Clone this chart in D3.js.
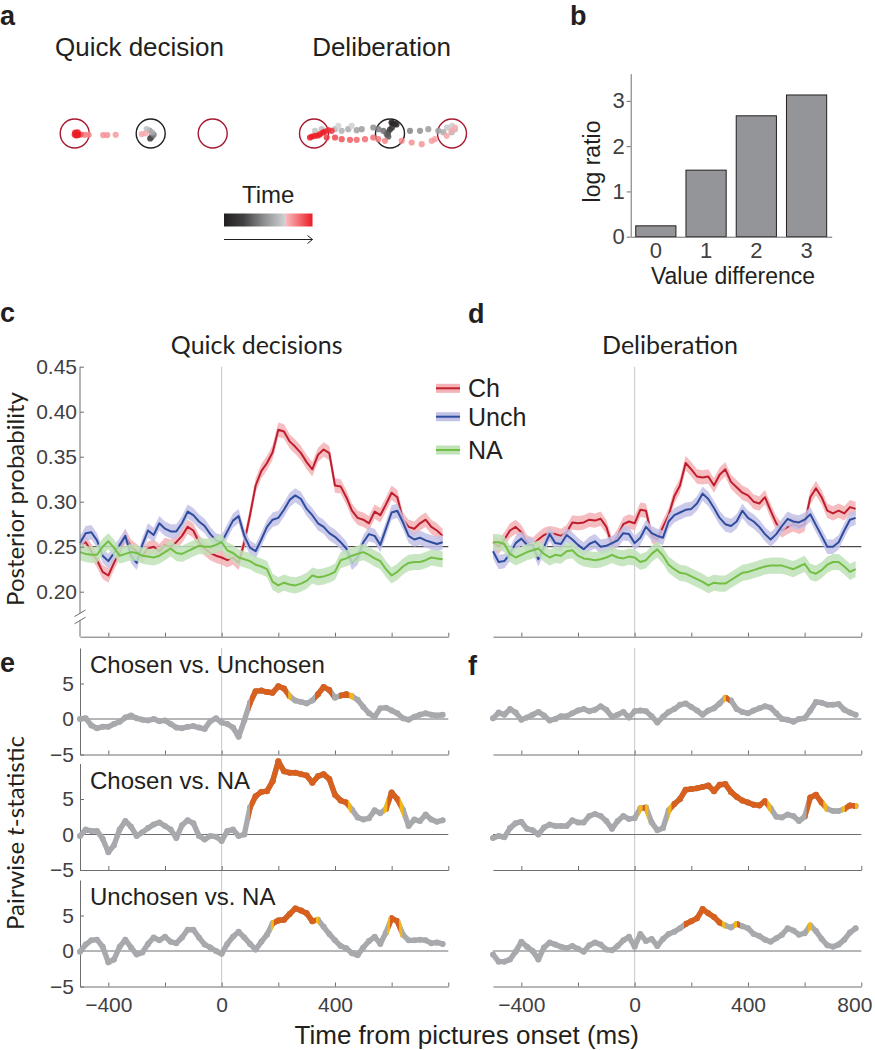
<!DOCTYPE html>
<html>
<head>
<meta charset="utf-8">
<script src="https://cdn.jsdelivr.net/npm/d3@7"></script>
<style>
  body { margin: 0; background: #fff; }
  svg text { font-family: "Liberation Sans", Arial, sans-serif; }
</style>
</head>
<body>
<svg id="fig" width="875" height="1050"></svg>
<script>
// ---------- data ----------
// sample times (ms from pictures onset)
const timeMs = [-500, -480, -460, -440, -420, -400, -380, -360, -340, -320, -300, -280, -260, -240, -220,
  -200, -180, -160, -140, -120, -100, -80, -60, -40, -20, 0, 20, 40, 60, 80, 100, 120, 140, 160, 180,
  200, 220, 240, 260, 280, 300, 320, 340, 360, 380, 400, 420, 440, 460, 480, 500, 520, 540, 560, 580,
  600, 620, 640, 660, 680, 700, 720, 740, 760, 780];

const seriesNames = ["Ch", "Unch", "NA"];
const semHalf = [0.008, 0.008, 0.009];
const chanceLevel = 0.25;
const posteriorTicks = [0.20, 0.25, 0.30, 0.35, 0.40, 0.45];

// panel c: quick decisions, posterior probability
const quickCh = [0.252, 0.255, 0.245, 0.235, 0.222, 0.218, 0.232, 0.245, 0.262, 0.250,
  0.245, 0.240, 0.248, 0.250, 0.245, 0.252, 0.250, 0.255, 0.262, 0.272,
  0.268, 0.255, 0.248, 0.243, 0.240, 0.238, 0.235, 0.238, 0.232, 0.255,
  0.285, 0.318, 0.334, 0.343, 0.355, 0.380, 0.378, 0.367, 0.361, 0.354,
  0.344, 0.336, 0.352, 0.358, 0.354, 0.318, 0.317, 0.305, 0.290, 0.282,
  0.280, 0.276, 0.289, 0.285, 0.297, 0.310, 0.305, 0.280, 0.272, 0.270,
  0.276, 0.280, 0.272, 0.268, 0.262];
const quickUnch = [0.254, 0.265, 0.266, 0.257, 0.240, 0.234, 0.243, 0.252, 0.262, 0.240,
  0.232, 0.252, 0.268, 0.263, 0.276, 0.270, 0.267, 0.267, 0.276, 0.289,
  0.285, 0.278, 0.273, 0.264, 0.257, 0.255, 0.267, 0.279, 0.284, 0.262,
  0.249, 0.245, 0.258, 0.272, 0.280, 0.282, 0.291, 0.302, 0.307, 0.303,
  0.292, 0.285, 0.276, 0.272, 0.265, 0.261, 0.255, 0.248, 0.232, 0.238,
  0.255, 0.264, 0.262, 0.252, 0.270, 0.288, 0.290, 0.277, 0.262, 0.258,
  0.260, 0.257, 0.255, 0.253, 0.255];
const quickNA = [0.244, 0.242, 0.241, 0.241, 0.250, 0.256, 0.249, 0.240, 0.242, 0.244,
  0.243, 0.240, 0.239, 0.238, 0.240, 0.244, 0.248, 0.243, 0.242, 0.245,
  0.248, 0.251, 0.250, 0.250, 0.252, 0.255, 0.246, 0.243, 0.238, 0.236,
  0.234, 0.230, 0.228, 0.225, 0.211, 0.207, 0.210, 0.208, 0.207, 0.209,
  0.212, 0.218, 0.216, 0.217, 0.219, 0.222, 0.235, 0.237, 0.240, 0.242,
  0.244, 0.241, 0.237, 0.234, 0.225, 0.218, 0.222, 0.228, 0.232, 0.233,
  0.233, 0.235, 0.238, 0.237, 0.236];

// panel d: deliberation, posterior probability
const delibCh = [0.255, 0.250, 0.258, 0.268, 0.272, 0.266, 0.255, 0.252, 0.258, 0.263,
  0.265, 0.264, 0.262, 0.266, 0.277, 0.276, 0.277, 0.280, 0.279, 0.281,
  0.272, 0.252, 0.262, 0.275, 0.278, 0.276, 0.291, 0.290, 0.262, 0.258,
  0.272, 0.285, 0.306, 0.318, 0.343, 0.336, 0.328, 0.327, 0.328, 0.318,
  0.330, 0.336, 0.322, 0.316, 0.310, 0.307, 0.300, 0.298, 0.305, 0.290,
  0.276, 0.268, 0.272, 0.275, 0.272, 0.275, 0.305, 0.315, 0.305, 0.290,
  0.287, 0.290, 0.287, 0.294, 0.292];
const delibUnch = [0.245, 0.233, 0.234, 0.242, 0.254, 0.259, 0.252, 0.252, 0.236, 0.250,
  0.264, 0.254, 0.253, 0.263, 0.258, 0.252, 0.247, 0.253, 0.256, 0.250,
  0.251, 0.254, 0.257, 0.265, 0.264, 0.254, 0.260, 0.272, 0.265, 0.262,
  0.260, 0.278, 0.285, 0.288, 0.291, 0.292, 0.298, 0.309, 0.303, 0.293,
  0.282, 0.275, 0.273, 0.278, 0.290, 0.282, 0.278, 0.272, 0.264, 0.258,
  0.264, 0.273, 0.281, 0.278, 0.277, 0.280, 0.286, 0.274, 0.262, 0.250,
  0.250, 0.255, 0.268, 0.280, 0.282];
const delibNA = [0.255, 0.255, 0.253, 0.242, 0.238, 0.241, 0.244, 0.246, 0.248, 0.242,
  0.238, 0.241, 0.240, 0.245, 0.246, 0.240, 0.237, 0.236, 0.235, 0.236,
  0.238, 0.241, 0.238, 0.237, 0.239, 0.238, 0.233, 0.235, 0.242, 0.247,
  0.240, 0.230, 0.225, 0.221, 0.220, 0.217, 0.214, 0.211, 0.207, 0.210,
  0.209, 0.209, 0.213, 0.217, 0.221, 0.222, 0.224, 0.226, 0.228, 0.229,
  0.229, 0.229, 0.227, 0.225, 0.228, 0.231, 0.222, 0.220, 0.224, 0.230,
  0.233, 0.233, 0.228, 0.222, 0.225];

// panels e/f: pairwise t-statistics
const contrastNames = ["Chosen vs. Unchosen", "Chosen vs. NA", "Unchosen vs. NA"];
const tTicks = [-5, 0, 5];
const tQuickChUn = [0.0, 0.1, -0.9, -1.3, -1.1, -1.1, -0.7, -0.4, 0.2, 0.5,
  0.1, -0.1, -0.2, 0.0, -0.3, -0.2, -0.7, -1.2, -1.3, -1.1,
  -1.0, -1.2, -1.4, -0.3, 0.1, -0.5, -0.7, -1.2, -2.5, -0.2,
  2.3, 3.9, 4.0, 3.8, 3.7, 4.6, 4.3, 3.2, 2.6, 2.4,
  2.2, 2.6, 3.5, 4.5, 4.1, 3.0, 3.3, 3.5, 3.2, 2.7,
  1.7, 0.8, 0.3, 1.5, 1.6, 1.2, 0.8, 0.1, -0.1, 0.3,
  0.6, 0.8, 0.6, 0.5, 0.6];
const tQuickChNA = [-0.2, 0.7, 0.5, 0.5, -0.6, -2.5, -1.5, 0.7, 1.9, 1.1,
  -0.2, 0.3, 0.9, 1.4, 1.7, 1.2, 0.7, -0.5, 1.3, 2.0,
  1.6, -0.2, -0.7, -0.2, -0.3, -0.9, 0.5, 0.7, -0.2, 0.0,
  3.8, 5.4, 6.0, 6.1, 7.5, 10.3, 8.9, 8.7, 8.7, 8.5,
  8.3, 7.3, 8.2, 8.5, 7.8, 5.6, 4.8, 4.5, 3.5, 2.4,
  2.1, 2.3, 3.4, 3.0, 3.6, 5.9, 5.0, 3.5, 1.2, 2.1,
  1.9, 2.8, 2.1, 1.8, 2.0];
const tQuickUnNA = [-0.1, 0.9, 1.5, 1.6, 0.6, -1.6, -1.2, 0.6, 1.6, 0.5,
  -0.5, -0.2, 1.0, 1.9, 1.5, 2.0, 1.3, 1.1, 1.9, 3.0,
  3.0, 1.9, 0.9, 0.5, 0.0, -0.4, 1.0, 2.0, 2.7, 1.9,
  1.0, 0.2, 1.3, 2.3, 3.9, 4.3, 4.4, 5.2, 6.0, 5.7,
  5.3, 4.2, 4.4, 3.4, 2.4, 1.5, 0.7, 0.4, -0.3, -0.6,
  0.5, 1.4, 2.0, 1.0, 2.6, 4.6, 4.2, 2.3, 1.5, 1.5,
  1.6, 1.5, 1.1, 1.2, 1.0];
const tDelibChUn = [0.1, 0.9, 0.6, 1.4, 0.9, -0.1, 0.2, 0.6, 1.0, 0.5,
  -0.2, 0.0, 0.4, 0.4, 0.8, 1.2, 1.4, 1.1, 1.3, 1.8,
  1.3, 0.3, 0.6, 1.0, 0.2, 1.1, 1.2, 1.1, 0.4, -0.5,
  0.3, 1.0, 1.4, 2.0, 2.2, 1.7, 1.2, 0.6, 1.2, 1.5,
  2.2, 3.0, 2.6, 1.4, 1.0, 0.8, 1.2, 1.5, 1.8, 1.6,
  0.8, 0.0, -0.1, -0.4, 0.0, 0.1, 1.2, 2.4, 2.3, 2.0,
  2.0, 2.1, 1.3, 0.9, 0.6];
const tDelibChNA = [-0.5, -0.2, -0.4, 0.9, 1.6, 1.8, 0.8, 0.6, 0.0, 1.0,
  1.4, 1.2, 1.2, 1.2, 2.0, 1.7, 1.7, 2.6, 2.9, 2.6,
  1.9, 0.8, 1.9, 2.6, 2.2, 2.3, 3.7, 3.8, 1.7, 0.6,
  0.9, 3.4, 4.3, 5.0, 6.3, 6.4, 6.5, 6.7, 6.9, 6.1,
  7.0, 7.1, 6.0, 5.3, 4.8, 4.5, 4.2, 4.1, 4.7, 3.7,
  2.5, 2.4, 2.8, 2.6, 1.9, 2.5, 5.2, 5.6, 4.5, 3.6,
  3.3, 3.3, 3.6, 4.1, 4.0];
const tDelibUnNA = [-0.5, -1.5, -1.5, -1.2, -0.1, 1.3, 0.6, 0.0, -1.2, 0.5,
  1.2, 0.9, 0.6, 0.4, 0.7, 0.3, -0.1, 0.8, 1.2, 0.9,
  0.2, 0.1, 0.7, 1.5, 2.0, 0.6, 2.4, 1.4, 1.7, 0.7,
  1.7, 2.4, 2.7, 3.2, 3.8, 4.2, 4.6, 5.9, 5.3, 4.8,
  4.0, 3.6, 3.3, 3.8, 3.5, 3.2, 2.4, 2.1, 1.6, 1.3,
  1.8, 2.3, 3.2, 2.9, 2.3, 2.5, 3.6, 2.8, 1.7, 0.8,
  0.6, 0.9, 1.6, 2.6, 3.2];

// significant stretches [from, to] in ms
const sigOrangeQuick = [[[100, 235], [330, 390], [415, 450]], [[100, 445], [585, 628]], [[184, 332], [594, 626]]];
const sigYellowQuick = [[[236, 246], [452, 466]], [[446, 458], [572, 584], [629, 641]], [[174, 183], [333, 343], [585, 593], [627, 637]]];
const sigOrangeDelib = [[[322, 334]], [[28, 36], [130, 468], [607, 666], [742, 778]], [[175, 308], [362, 372]]];
const sigYellowDelib = [[[313, 321]], [[14, 27], [37, 48], [119, 129], [469, 481], [667, 679], [731, 741], [779, 790]], [[309, 319], [351, 361], [612, 626]]];

// panel b
const valueDiff = ["0", "1", "2", "3"];
const logRatio = [0.24, 1.47, 2.67, 3.13];
const logRatioTicks = [0, 1, 2, 3];

// panel a: example trajectories, offsets from the start picture (px) and normalised time
const targetX = [-76, 0, 62];
const targetRole = ["option", "start", "option"];
const quickDx = [-0.5, 1, 3, 1.5, -1, -4, -5, -9, -35, -43.5, -47.5, -62, -66, -70, -73, -76, -74.5, -72.5, -75.5, -74];
const quickDy = [5, 3.3, 1.3, -1, -3, -4.4, -0.2, 0.6, 1.3, 1.6, 1.6, 1.3, 1.3, 1, -1.2, 1, 2, 1.5, -1, 0.5];
const quickT = [0.15, 0.25, 0.4, 0.55, 0.5, 0.62, 0.73, 0.74, 0.76, 0.78, 0.78, 0.8, 0.82, 0.9, 1, 1, 1, 1, 1, 1];
const delibDx = [1.5, 3, 5, 6.5, 2, 0, -2, -1.7, -3.3, -6.7, -11.7, 20, -16.7, 30, 38.3, -28.3, 48.3, -33.3,
  53.3, -41.7, 61.7, -48.3, 65, -55, -68.3, -75, 57, 62, -38.3, -51.7, 65, 61.7, 56.7, 45, 41.7, 31.7,
  21.7, 11.7, -5, -11.7, -16.7, -25, -33.3, -40, -48.3, -55, -63.3, -58.3, -61.7, -65, -70, -75, -80, -78, -72, -67];
const delibDy = [-11, -10, -9.5, -9, -6, -4, -1, 3, 0.7, -2.7, -4.3, -2.7, -6, -2.7, -4.3, -4.3, -2.7, -3.3,
  -1.3, -4.3, -1.3, -2.7, -4.3, -4.3, -4.3, -2.7, -6, -7.7, -7.7, -7.7, -6, -2.7, 2.3, 5.7, 7.3, 10.7,
  9, 7.3, 7.3, 5.7, 4, 5.7, 6.3, 6.3, 5.7, 4, 4, -2.7, -3.3, -2, 0.7, 2.3, 4, 3, 2, -1];
const delibT = [0, 0.03, 0.06, 0.08, 0.12, 0.18, 0.22, 0.28, 0.3, 0.35, 0.4, 0.42, 0.45, 0.46, 0.5, 0.5, 0.52, 0.52,
  0.55, 0.55, 0.58, 0.58, 0.6, 0.6, 0.63, 0.65, 0.66, 0.68, 0.69, 0.7, 0.72, 0.73, 0.74, 0.75, 0.76, 0.77,
  0.78, 0.79, 0.8, 0.82, 0.84, 0.85, 0.86, 0.88, 0.9, 0.92, 0.94, 0.95, 0.96, 0.97, 0.98, 0.99, 1, 1, 1, 1];

// ---------- drawing ----------
const svg = d3.select("#fig");
const humanist = 'Lato, "Open Sans", sans-serif';
const ink = "#231f20";
const tickInk = "#414042";
const axisInk = "#6d6e71";
const lineColors = ["#be1e2d", "#2e4d9f", "#72bf44"];
const bandColors = ["#f4b2b6", "#c2c1e6", "#bfe2b8"];
const traceGray = "#a7a9ac", traceOrange = "#d7601f", traceYellow = "#f2b81b";
const xTicks = [-400, -200, 0, 200, 400, 600, 800];
let clipCount = 0;

function styleAxis(g, size) {
    g.attr("font-size", null).attr("font-family", null);
    g.selectAll("path, line").attr("stroke", axisInk);
    g.selectAll("text").attr("font-size", size).attr("fill", tickInk);
}

function drawLetters() {
    const letters = [["a", 0, 25], ["b", 570, 25], ["c", 0, 322], ["d", 468, 323], ["e", 0, 672], ["f", 468, 675]];
    svg.selectAll("text.letter").data(letters).enter().append("text")
        .attr("class", "letter")
        .attr("x", d => d[1]).attr("y", d => d[2])
        .attr("font-size", 27).attr("font-weight", "bold").attr("fill", ink)
        .text(d => d[0]);
}

function drawTrajectories() {
    const colorT = d3.scaleLinear()
        .domain([0, 0.22, 0.45, 0.7, 0.701, 1])
        .range(["#231f20", "#404042", "#8d8e90", "#d1d3d4", "#f8babd", "#ec1c24"]);
    const cy = 133.5;
    const panels = [
        { title: "Quick decision", titleX: 139.5, cx: 150.7, dx: quickDx, dy: quickDy, t: quickT },
        { title: "Deliberation", titleX: 381.5, cx: 390, dx: delibDx, dy: delibDy, t: delibT }
    ];
    panels.forEach(p => {
        const xs = d3.scaleLinear().domain([-100, 100]).range([p.cx - 100, p.cx + 100]);
        const ys = d3.scaleLinear().domain([-20, 20]).range([cy - 20, cy + 20]);
        svg.append("text").attr("x", p.titleX).attr("y", 56)
            .attr("text-anchor", "middle").attr("font-size", 26).attr("fill", ink).text(p.title);
        svg.append("g").selectAll("circle").data(targetX).enter().append("circle")
            .attr("cx", d => xs(d)).attr("cy", ys(0)).attr("r", 14.5)
            .attr("fill", "none").attr("stroke-width", 1.4)
            .attr("stroke", (d, i) => targetRole[i] === "start" ? ink : "#a6192e");
        const pts = p.dx.map((d, i) => ({ x: d, y: p.dy[i], t: p.t[i] }))
            .sort((a, b) => a.t - b.t);
        svg.append("g").selectAll("circle").data(pts).enter().append("circle")
            .attr("cx", d => xs(d.x)).attr("cy", d => ys(d.y)).attr("r", 3.1)
            .attr("fill", d => colorT(d.t)).attr("fill-opacity", 0.85);
    });

    // time colour bar
    const grad = svg.append("defs").append("linearGradient").attr("id", "timeGrad");
    grad.selectAll("stop").data(colorT.domain()).enter().append("stop")
        .attr("offset", d => d).attr("stop-color", d => colorT(d));
    const bx = d3.scaleLinear().domain([0, 1]).range([224, 312.5]);
    svg.append("text").attr("x", (bx(0) + bx(1)) / 2).attr("y", 203)
        .attr("text-anchor", "middle").attr("font-size", 24).attr("fill", ink).text("Time");
    svg.append("rect").attr("x", bx(0)).attr("y", 213.5).attr("width", bx(1) - bx(0)).attr("height", 13)
        .attr("fill", "url(#timeGrad)");
    const arrow = svg.append("g").attr("stroke", ink).attr("stroke-width", 1).attr("fill", "none");
    arrow.append("line").attr("x1", bx(0)).attr("x2", bx(1)).attr("y1", 239.5).attr("y2", 239.5);
    arrow.append("path").attr("d", `M${bx(1) - 5},235.5 L${bx(1)},239.5 L${bx(1) - 5},243.5`);
}

function drawBars() {
    const x = d3.scaleBand().domain(valueDiff).range([630.7, 831.7]).paddingInner(0.2).paddingOuter(0.1);
    const y = d3.scaleLinear().domain([0, 3.6]).range([236.7, 73.7]);
    svg.append("g").selectAll("rect").data(logRatio).enter().append("rect")
        .attr("x", (d, i) => x(valueDiff[i])).attr("width", x.bandwidth())
        .attr("y", d => y(d)).attr("height", d => y(0) - y(d))
        .attr("fill", "#939598").attr("stroke", ink).attr("stroke-width", 1);
    const ya = svg.append("g").attr("transform", `translate(630.7,0)`)
        .call(d3.axisLeft(y).tickValues(logRatioTicks).tickFormat(d3.format("d"))
            .tickSizeInner(4).tickSizeOuter(0).tickPadding(2));
    styleAxis(ya, 22);
    const xa = svg.append("g").attr("transform", `translate(0,236.7)`)
        .call(d3.axisBottom(x).tickSize(0).tickPadding(6));
    styleAxis(xa, 22);
    svg.append("text").attr("x", 733).attr("y", 284).attr("text-anchor", "middle")
        .attr("font-size", 23).attr("fill", ink).text("Value difference");
    svg.append("text").attr("transform", "translate(600,161.5) rotate(-90)").attr("text-anchor", "middle")
        .attr("font-size", 23).attr("fill", ink).text("log ratio");
}

function drawPosterior(p) {
    const x = d3.scaleLinear().domain([-500, 800]).range([p.x0, p.x1]);
    const y = d3.scaleLinear().domain([0.15, 0.45]).range([636.7, 366.7]);
    const g = svg.append("g");

    g.append("line").attr("x1", x(0)).attr("x2", x(0)).attr("y1", y(0.45)).attr("y2", y(0.15))
        .attr("stroke", "#c7c8ca").attr("stroke-width", 1);
    g.append("line").attr("x1", x(-500)).attr("x2", x(800)).attr("y1", y(chanceLevel)).attr("y2", y(chanceLevel))
        .attr("stroke", ink).attr("stroke-width", 1);

    const band = (vals, k) => d3.area()
        .x((d, i) => x(timeMs[i]))
        .y0(d => y(d - semHalf[k]))
        .y1(d => y(d + semHalf[k]))(vals);
    const line = d3.line().x((d, i) => x(timeMs[i])).y(d => y(d));

    // each condition: shaded error band, then its mean line
    p.series.forEach((vals, k) => {
        g.append("path").attr("d", band(vals, k)).attr("fill", bandColors[k]).attr("fill-opacity", 0.85);
        g.append("path").attr("d", line(vals)).attr("fill", "none")
            .attr("stroke", lineColors[k]).attr("stroke-width", 2).attr("stroke-linejoin", "round");
    });

    const xa = g.append("g").attr("transform", `translate(0,${y(0.15)})`)
        .call(d3.axisBottom(x).tickValues(xTicks).tickSizeInner(-4).tickSizeOuter(0).tickFormat(""));
    styleAxis(xa, 21);

    svg.append("text").attr("x", p.titleX).attr("y", 354).attr("text-anchor", "middle")
        .style("font-family", humanist).attr("font-size", 25).attr("fill", ink).text(p.title);

    if (p.yAxis) {
        const ya = g.append("g").attr("transform", `translate(${p.x0},0)`)
            .call(d3.axisLeft(y).tickValues(posteriorTicks).tickFormat(d3.format(".2f"))
                .tickSizeInner(-4).tickSizeOuter(0).tickPadding(3));
        ya.select(".domain").remove();
        styleAxis(ya, 21);
        // broken y axis
        const brk = [0.176, 0.168];
        const ax = g.append("g").attr("stroke", axisInk).attr("stroke-width", 1);
        ax.append("line").attr("x1", p.x0).attr("x2", p.x0).attr("y1", y(0.45)).attr("y2", y(brk[0]));
        ax.append("line").attr("x1", p.x0).attr("x2", p.x0).attr("y1", y(brk[1])).attr("y2", y(0.15));
        brk.forEach(b => {
            ax.append("line").attr("x1", p.x0 - 5.5).attr("x2", p.x0 + 5.5)
                .attr("y1", y(b) + 3.3).attr("y2", y(b) - 3.3);
        });
        svg.append("text").attr("transform", `translate(24,499) rotate(-90)`).attr("text-anchor", "middle")
            .style("font-family", humanist).attr("font-size", 24).attr("fill", ink).text("Posterior probability");
    }

    if (p.legend) {
        const lg = svg.append("g");
        const yl = [388.3, 416.7, 450];
        seriesNames.forEach((name, k) => {
            lg.append("rect").attr("x", 436).attr("y", yl[k] - 4.5).attr("width", 24).attr("height", 9)
                .attr("fill", bandColors[k]);
            lg.append("line").attr("x1", 436).attr("x2", 460).attr("y1", yl[k]).attr("y2", yl[k])
                .attr("stroke", lineColors[k]).attr("stroke-width", 2);
            lg.append("text").attr("x", 468).attr("y", yl[k] + 9).attr("font-size", 25).attr("fill", ink).text(name);
        });
    }
}

function drawTrace(parent, x, y, vals, color, clip) {
    const g = parent.append("g");
    if (clip) g.attr("clip-path", `url(#${clip})`);
    const line = d3.line().x((d, i) => x(timeMs[i])).y(d => y(d));
    g.append("path").attr("d", line(vals)).attr("fill", "none").attr("stroke", color)
        .attr("stroke-width", 5.4).attr("stroke-linejoin", "round").attr("stroke-linecap", "round");
    g.selectAll("circle").data(vals).enter().append("circle")
        .attr("cx", (d, i) => x(timeMs[i])).attr("cy", d => y(d)).attr("r", 3).attr("fill", color);
}

function drawTstats(p) {
    const x = d3.scaleLinear().domain([-500, 800]).range([p.x0, p.x1]);
    const tops = [648, 763.5, 880];
    const h = 106.5;
    const defs = svg.append("defs");
    svg.append("line").attr("x1", x(0)).attr("x2", x(0)).attr("y1", tops[0]).attr("y2", tops[2] + h)
        .attr("stroke", "#c7c8ca").attr("stroke-width", 1);

    p.series.forEach((vals, k) => {
        const y = d3.scaleLinear().domain([-5, 10]).range([tops[k] + h, tops[k]]);
        const g = svg.append("g");
        g.append("line").attr("x1", x(-500)).attr("x2", x(800)).attr("y1", y(0)).attr("y2", y(0))
            .attr("stroke", axisInk).attr("stroke-width", 1);

        const last = k === p.series.length - 1;
        const xa = g.append("g").attr("transform", `translate(0,${y(-5)})`)
            .call(d3.axisBottom(x).tickValues(xTicks).tickSizeInner(-4).tickSizeOuter(0).tickPadding(11)
                .tickFormat(d => last && p.xLabels.includes(d) ? d3.format("")(d) : ""));
        styleAxis(xa, 21);
        // keep the rightmost label inside the page
        xa.selectAll(".tick text").filter(d => x(d) > 855).attr("dx", -7);

        if (p.yAxis) {
            const ya = g.append("g").attr("transform", `translate(${p.x0},0)`)
                .call(d3.axisLeft(y).tickValues(tTicks).tickSizeInner(-4).tickSizeOuter(0).tickPadding(6));
            styleAxis(ya, 21);
            g.append("text").attr("x", 90).attr("y", tops[k] + 25).attr("font-size", 24).attr("fill", ink)
                .text(contrastNames[k]);
        }

        drawTrace(g, x, y, vals, traceGray, null);
        [[p.orange[k], traceOrange], [p.yellow[k], traceYellow]].forEach(([ranges, color]) => {
            ranges.forEach(([a, b]) => {
                const id = "sig" + (clipCount++);
                defs.append("clipPath").attr("id", id).append("rect")
                    .attr("x", x(a)).attr("width", x(b) - x(a))
                    .attr("y", tops[k] - 20).attr("height", h + 40);
                drawTrace(g, x, y, vals, color, id);
            });
        });
    });
}

drawLetters();
drawTrajectories();
drawBars();
drawPosterior({ x0: 80, x1: 448.3, series: [quickCh, quickUnch, quickNA], title: "Quick decisions", titleX: 256.7, yAxis: true, legend: true });
drawPosterior({ x0: 493, x1: 861.3, series: [delibCh, delibUnch, delibNA], title: "Deliberation", titleX: 670, yAxis: false, legend: false });
drawTstats({ x0: 80, x1: 448.3, series: [tQuickChUn, tQuickChNA, tQuickUnNA], orange: sigOrangeQuick, yellow: sigYellowQuick, yAxis: true, xLabels: [-400, 0, 400] });
drawTstats({ x0: 493, x1: 861.3, series: [tDelibChUn, tDelibChNA, tDelibUnNA], orange: sigOrangeDelib, yellow: sigYellowDelib, yAxis: false, xLabels: [-400, 0, 400, 800] });

svg.append("text").attr("transform", "translate(24,833) rotate(-90)").attr("text-anchor", "middle")
    .style("font-family", humanist).attr("font-size", 24).attr("fill", ink)
    .call(t => {
        t.append("tspan").text("Pairwise ");
        t.append("tspan").attr("font-style", "italic").text("t");
        t.append("tspan").text("-statistic");
    });
svg.append("text").attr("x", 466.7).attr("y", 1044).attr("text-anchor", "middle")
    .attr("font-size", 26).attr("fill", ink).text("Time from pictures onset (ms)");
</script>
</body>
</html>
